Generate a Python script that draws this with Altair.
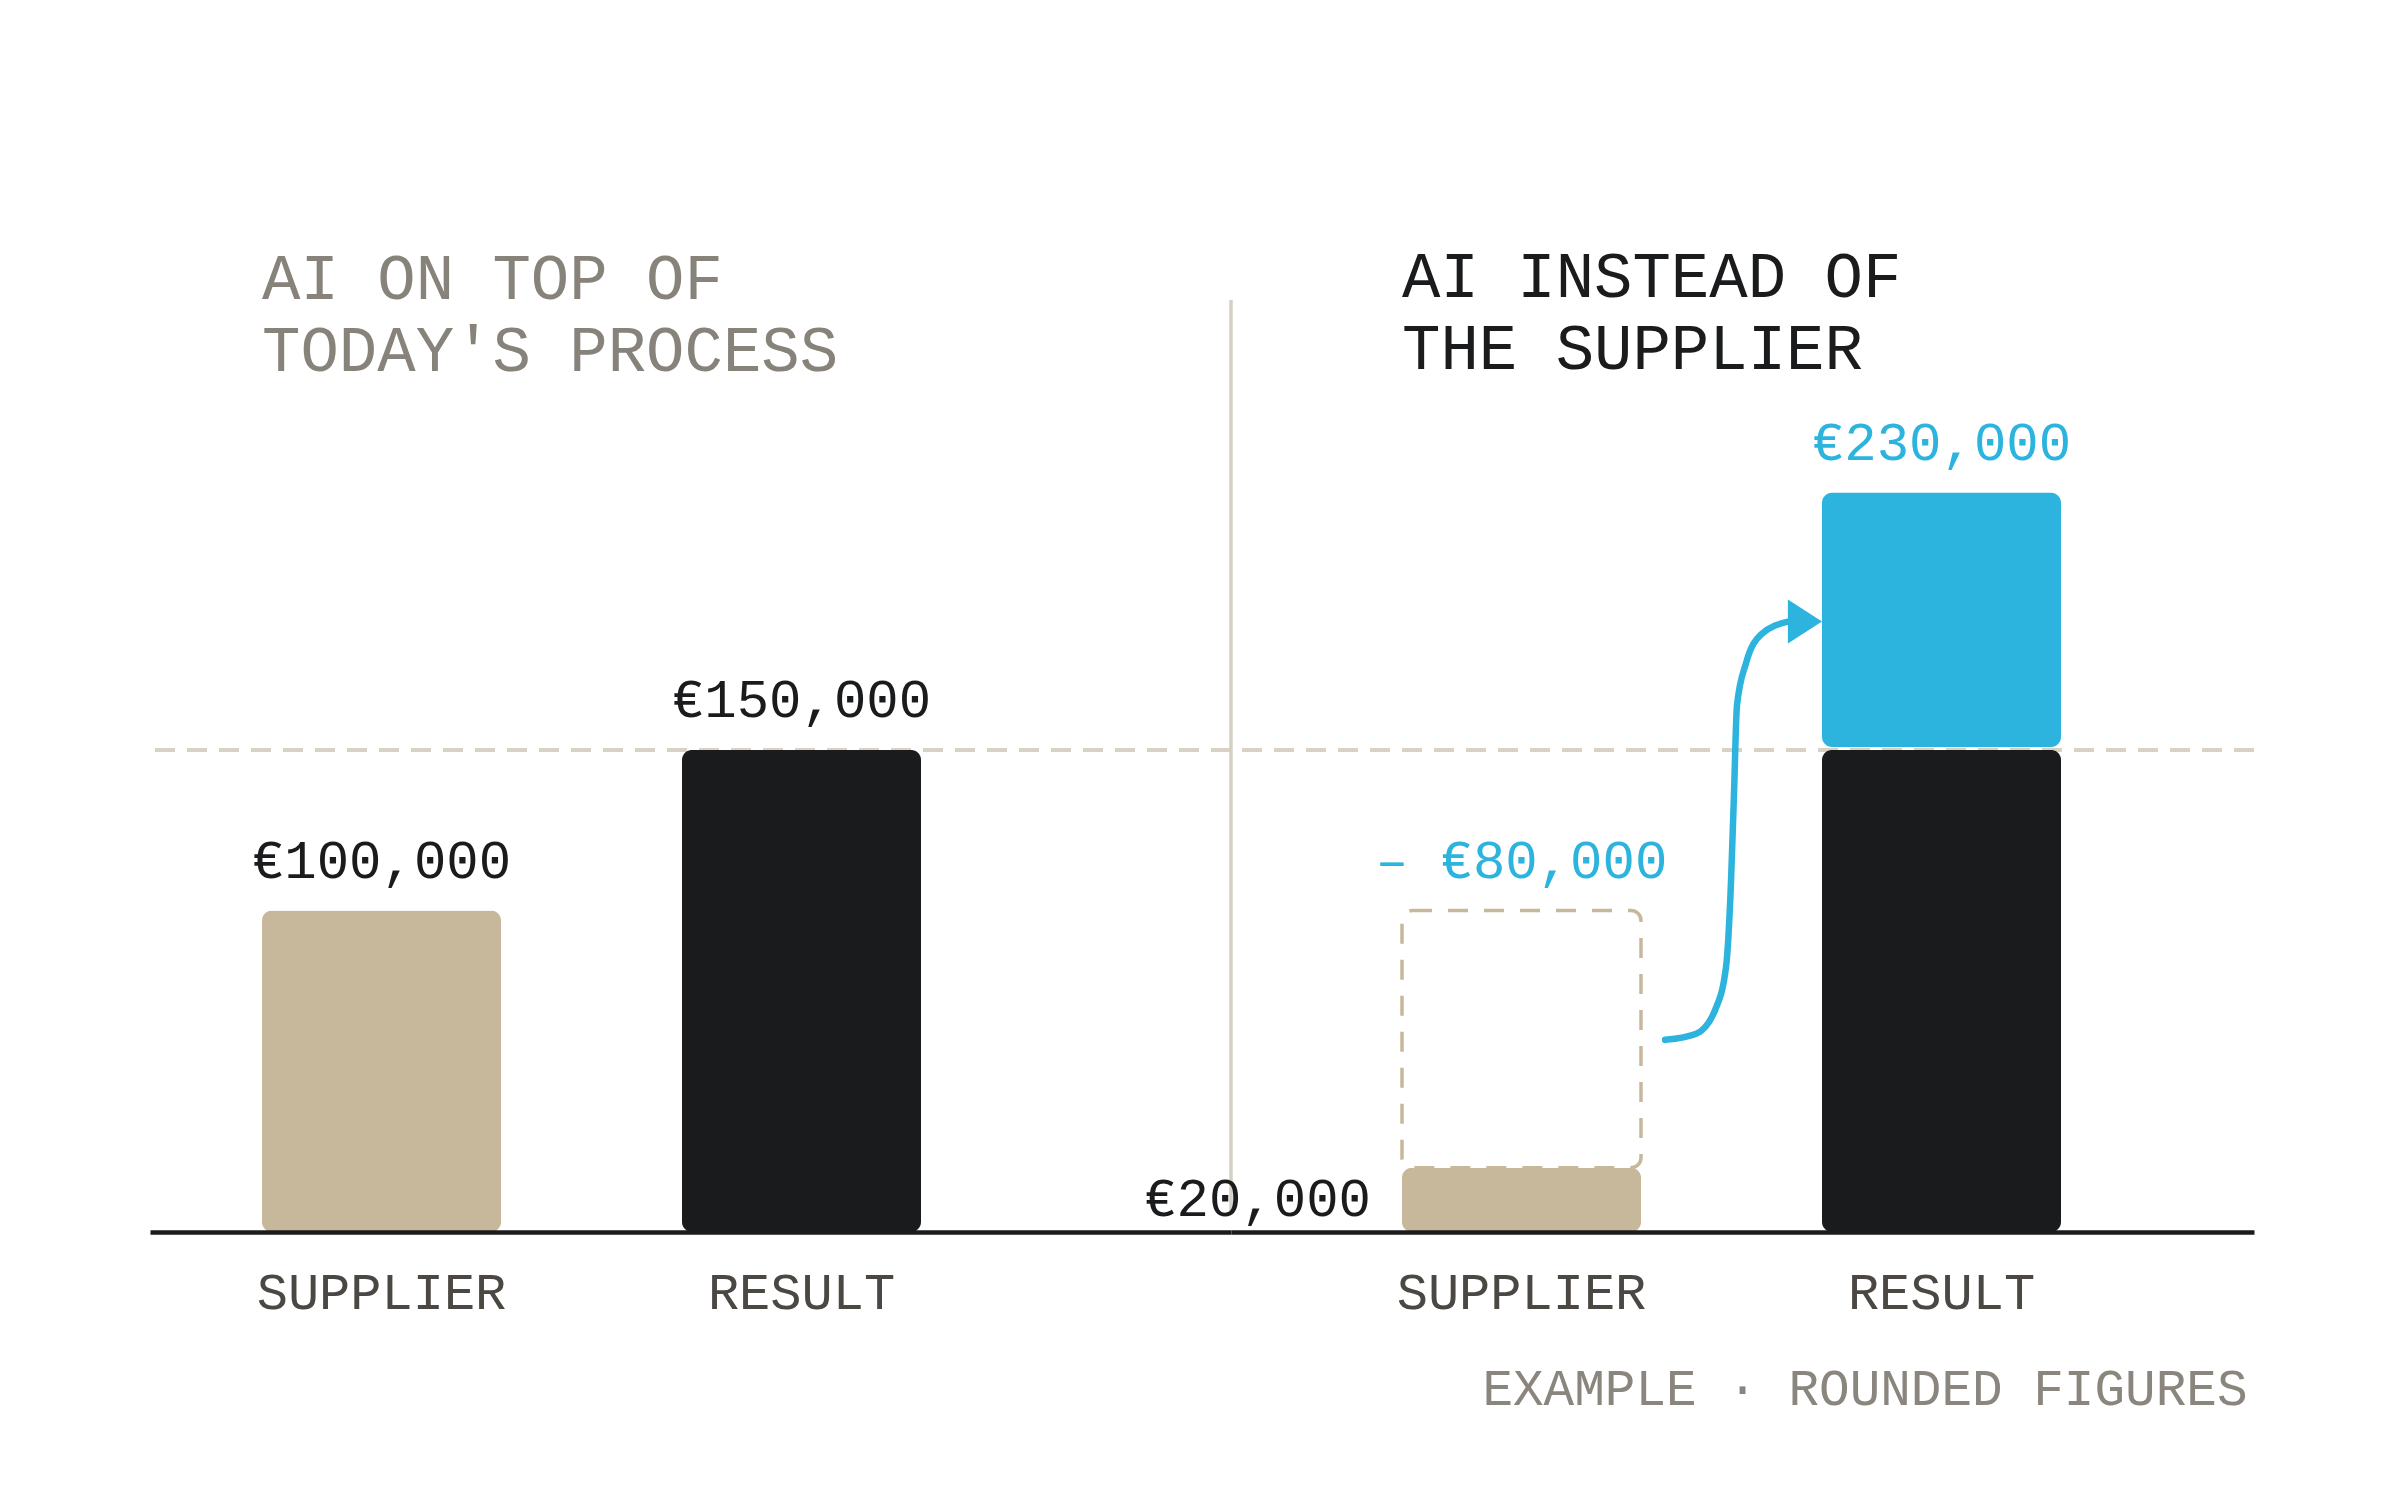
import altair as alt
import pandas as pd

# ---------------- data ----------------
categories = ["SUPPLIER", "RESULT"]
today_values = [100000, 150000]          # AI on top of today's process
instead_supplier = 20000                 # what is left for the supplier
instead_removed = 80000                  # taken away from the supplier
instead_result_base = 150000             # result before the shift
instead_added = 80000                    # added on top of the result
panel_titles = [["AI ON TOP OF", "TODAY'S PROCESS"], ["AI INSTEAD OF", "THE SUPPLIER"]]
footer_text = "EXAMPLE · ROUNDED FIGURES"
# arrow path: x in bar steps from the SUPPLIER bar centre, y in euro
arrow_x = [0.342, 0.416, 0.461, 0.487, 0.499, 0.506, 0.513, 0.535, 0.570, 0.635]
arrow_y = [59800, 61700, 69100, 82500, 109600, 136700, 163800, 177200, 185900, 189900]


def eur(v):
    return "€" + format(int(v), ",")


# ---------------- style / layout ----------------
FONT = "Liberation Mono"
BEIGE = "#c7b89b"
BLACK = "#1a1b1d"
BLUE = "#2cb3de"
GUIDE = "#d8d1c4"
DIVIDER = "#d6cfc3"
TITLE_GRAY = "#87837b"
LABEL_COL = "#4b4843"
FOOT_COL = "#8a867e"

H = 932
Y_MAX = 290000
STEP = 420
BAR = 239
W1, W2 = 1081, 1023
LEFT1, LEFT2 = 112, 171
PI = 1 - BAR / STEP


def band_scale(W, left):
    po = (W / STEP - 2 + PI) / 2
    align = left / (W - STEP * (2 - PI))
    return alt.Scale(domain=categories, paddingInner=PI, paddingOuter=po, align=align)


def yscale():
    return alt.Scale(domain=[0, Y_MAX], nice=False, zero=True)


axis_common = dict(orient="bottom", ticks=False, domain=True, domainColor=BLACK,
                   domainWidth=4.5, labelFont=FONT, labelFontSize=52, labelColor=LABEL_COL,
                   labelPadding=35, labelAngle=0, labelLimit=600, grid=False, zindex=1)
xaxisA = alt.Axis(title=None, **axis_common)
xaxisB = alt.Axis(title=footer_text, titleFont=FONT, titleFontSize=51, titleFontWeight="normal",
                  titleColor=FOOT_COL, titleAnchor="end", titleAlign="right", titleX=W2 - 7,
                  titlePadding=46, **axis_common)


def title(lines, dx, color):
    return alt.TitleParams(lines, anchor="start", frame="group", dx=dx, font=FONT, fontSize=64,
                           fontWeight="normal", lineHeight=72, color=color, offset=-84)


# ---------------- panel A ----------------
xA = alt.X("cat:N", scale=band_scale(W1, LEFT1), axis=xaxisA)
dfA = pd.DataFrame({"cat": categories, "value": today_values,
                    "label": [eur(v) for v in today_values]})
guide_df = pd.DataFrame({"v": [today_values[1]]})

guideA = alt.Chart(guide_df).mark_rule(color=GUIDE, strokeWidth=4, strokeDash=[20, 12]).encode(
    y=alt.Y("v:Q", scale=yscale(), axis=None))
barsA = alt.Chart(dfA).mark_bar(cornerRadius=10).encode(
    x=xA, y=alt.Y("value:Q", scale=yscale(), axis=None),
    color=alt.Color("cat:N", scale=alt.Scale(domain=categories, range=[BEIGE, BLACK]), legend=None))
labelsA = alt.Chart(dfA).mark_text(font=FONT, fontSize=54, color=BLACK, baseline="alphabetic",
                                   dy=-33).encode(
    x=xA, y=alt.Y("value:Q", scale=yscale(), axis=None), text="label:N")

panelA = alt.layer(guideA, barsA, labelsA).properties(
    width=W1, height=H, title=title(panel_titles[0], LEFT1, TITLE_GRAY))

# ---------------- panel B ----------------
xB = alt.X("cat:N", scale=band_scale(W2, LEFT2), axis=xaxisB)
sup_df = pd.DataFrame({"cat": ["SUPPLIER"], "value": [instead_supplier],
                       "mid": [instead_supplier / 2], "label": [eur(instead_supplier)]})
rem_df = pd.DataFrame({"cat": ["SUPPLIER"], "lo": [instead_supplier],
                       "hi": [instead_supplier + instead_removed],
                       "label": ["– " + eur(instead_removed)]})
res_df = pd.DataFrame({"cat": ["RESULT"], "value": [instead_result_base]})
add_df = pd.DataFrame({"cat": ["RESULT"], "lo": [instead_result_base],
                       "hi": [instead_result_base + instead_added],
                       "label": [eur(instead_result_base + instead_added)]})

guideB = alt.Chart(guide_df).mark_rule(color=GUIDE, strokeWidth=4, strokeDash=[20, 12]).encode(
    y=alt.Y("v:Q", scale=yscale(), axis=None))
divider = alt.Chart(guide_df).mark_rule(color=DIVIDER, strokeWidth=3.5).encode(
    x=alt.value(0), y=alt.value(0), y2=alt.value(H - 21))
supB = alt.Chart(sup_df).mark_bar(cornerRadius=10, color=BEIGE).encode(
    x=xB, y=alt.Y("value:Q", scale=yscale(), axis=None))
remB = alt.Chart(rem_df).mark_bar(cornerRadius=10, fill="transparent", stroke=BEIGE,
                                  strokeWidth=3.5, strokeDash=[20, 16]).encode(
    x=xB, y=alt.Y("hi:Q", scale=yscale(), axis=None), y2="lo:Q")
resB = alt.Chart(res_df).mark_bar(cornerRadius=10, color=BLACK).encode(
    x=xB, y=alt.Y("value:Q", scale=yscale(), axis=None))
addB = alt.Chart(add_df).mark_bar(cornerRadius=10, color=BLUE, y2Offset=-3).encode(
    x=xB, y=alt.Y("hi:Q", scale=yscale(), axis=None), y2="lo:Q")
remLab = alt.Chart(rem_df).mark_text(font=FONT, fontSize=54, color=BLUE, baseline="alphabetic",
                                     dy=-33).encode(
    x=xB, y=alt.Y("hi:Q", scale=yscale(), axis=None), text="label:N")
addLab = alt.Chart(add_df).mark_text(font=FONT, fontSize=54, color=BLUE, baseline="alphabetic",
                                     dy=-33).encode(
    x=xB, y=alt.Y("hi:Q", scale=yscale(), axis=None), text="label:N")
supLab = alt.Chart(sup_df).mark_text(font=FONT, fontSize=54, color=BLACK, baseline="middle",
                                     align="right", dx=-31).encode(
    x=alt.X("cat:N", scale=band_scale(W2, LEFT2), axis=xaxisB, bandPosition=0),
    y=alt.Y("mid:Q", scale=yscale(), axis=None), text="label:N")

band_group = alt.layer(guideB, divider, supB, remB, resB, addB, remLab, addLab, supLab)

d0 = -(LEFT2 + BAR / 2) / STEP
d1 = d0 + W2 / STEP
xs = alt.Scale(domain=[d0, d1], nice=False, zero=False)
arrow_df = pd.DataFrame({"ax": arrow_x, "ay": arrow_y, "i": list(range(len(arrow_x)))})
head_df = pd.DataFrame({"ax": [1 - BAR / 2 / STEP - 22 / STEP],
                        "ay": [instead_result_base + instead_added / 2]})
arrow_line = alt.Chart(arrow_df).mark_line(color=BLUE, strokeWidth=6.5, strokeCap="round",
                                           interpolate="monotone").encode(
    x=alt.X("ax:Q", scale=xs, axis=None), y=alt.Y("ay:Q", scale=yscale(), axis=None),
    order="i:Q")
arrow_head = alt.Chart(head_df).mark_point(shape="M-0.55,-1L1,0L-0.55,1Z", size=1936, filled=True,
                                           color=BLUE, opacity=1, strokeWidth=0).encode(
    x=alt.X("ax:Q", scale=xs, axis=None), y=alt.Y("ay:Q", scale=yscale(), axis=None))
arrow_group = alt.layer(arrow_line, arrow_head)

panelB = alt.layer(band_group, arrow_group).resolve_scale(x="independent").properties(
    width=W2, height=H, title=title(panel_titles[1], LEFT2, BLACK))

chart = alt.hconcat(panelA, panelB, spacing=0, bounds="flush").properties(
    padding={"left": 140, "top": 238, "right": 20, "bottom": 20},
).configure_view(stroke=None).configure_axis(labelFont=FONT, titleFont=FONT)

chart.save("out.html", embed_options={"renderer": "svg", "actions": False})
